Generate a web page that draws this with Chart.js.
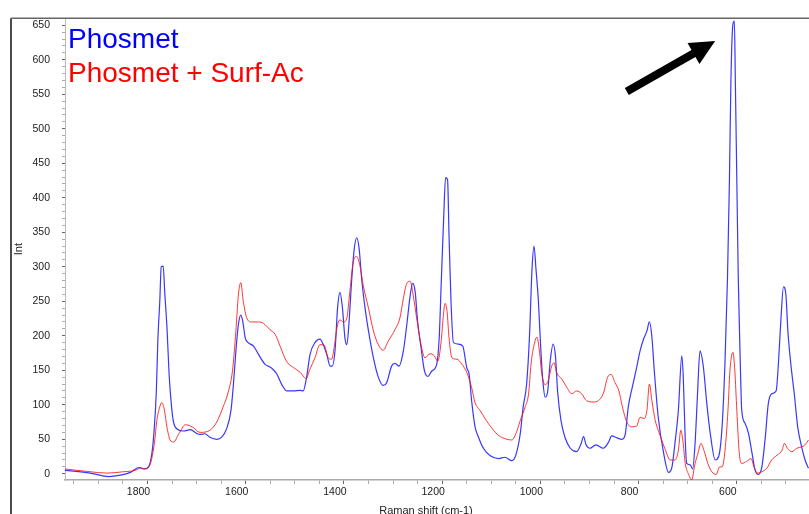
<!DOCTYPE html>
<html>
<head>
<meta charset="utf-8">
<title>Phosmet Raman spectrum</title>
<script src="https://cdn.jsdelivr.net/npm/chart.js@4.4.1/dist/chart.umd.min.js"></script>
<style>
  html, body { margin: 0; padding: 0; background: #fff; overflow: hidden; }
  #wrap { width: 809px; height: 514px; position: relative; }
</style>
</head>
<body>
<div id="wrap"><canvas id="spectrum"></canvas></div>
<script>
// Raman shift (cm-1) and intensity, Phosmet alone
const phosmetShift = [1968, 1917, 1879, 1855, 1835, 1818, 1808, 1798, 1791, 1786, 1782, 1779, 1775, 1772, 1768, 1765, 1760, 1756, 1751, 1747, 1740, 1726, 1713, 1699, 1693, 1683, 1673, 1659, 1649, 1639, 1630, 1625, 1620, 1615, 1610, 1606, 1601, 1595, 1584, 1574, 1561, 1547, 1537, 1527, 1516, 1503, 1489, 1483, 1476, 1469, 1459, 1449, 1442, 1435, 1428, 1424, 1418, 1413, 1408, 1403, 1398, 1394, 1390, 1384, 1379, 1374, 1369, 1364, 1357, 1350, 1340, 1330, 1320, 1313, 1303, 1296, 1288, 1279, 1272, 1265, 1260, 1255, 1250, 1243, 1236, 1229, 1221, 1211, 1206, 1202, 1197, 1193, 1189, 1186, 1182, 1177, 1167, 1158, 1150, 1145, 1140, 1133, 1126, 1116, 1102, 1085, 1072, 1058, 1050, 1041, 1035, 1028, 1022, 1017, 1013, 1009, 1004, 1000, 995, 990, 985, 980, 974, 969, 965, 958, 950, 939, 926, 917, 912, 907, 899, 887, 872, 861, 855, 844, 834, 827, 821, 813, 804, 797, 790, 783, 778, 773, 768, 760, 749, 739, 732, 726, 719, 712, 709, 705, 702, 695, 690, 685, 680, 675, 668, 661, 653, 644, 637, 630, 624, 619, 615, 612, 608, 605, 603, 600, 597, 593, 590, 583, 576, 569, 563, 556, 549, 542, 536, 529, 520, 515, 510, 505, 500, 496, 490, 483, 476, 468, 461, 454];
const phosmetInt = [5, 1, -4, -2, 2, 9, 7, 10, 30, 68, 120, 192, 250, 300, 301, 264, 207, 144, 97, 75, 65, 62, 64, 58, 57, 58, 53, 50, 53, 65, 92, 130, 178, 216, 230, 221, 197, 190, 185, 173, 159, 153, 145, 130, 120, 120, 121, 120, 140, 173, 190, 195, 187, 173, 156, 156, 180, 240, 263, 240, 197, 187, 216, 283, 326, 342, 326, 283, 240, 207, 168, 140, 128, 132, 156, 160, 156, 178, 216, 259, 276, 264, 221, 183, 149, 141, 149, 159, 197, 274, 369, 429, 426, 345, 250, 190, 188, 185, 154, 144, 106, 68, 53, 37, 26, 22, 24, 19, 27, 58, 97, 130, 202, 297, 330, 297, 250, 192, 135, 111, 120, 163, 188, 168, 120, 77, 53, 37, 32, 44, 54, 42, 37, 42, 37, 46, 55, 52, 50, 58, 97, 125, 154, 178, 195, 207, 220, 199, 149, 82, 30, 2, 10, 44, 92, 171, 140, 49, 15, 13, 7, 44, 116, 178, 154, 101, 53, 20, 25, 68, 163, 283, 426, 570, 651, 656, 570, 426, 283, 163, 92, 73, 58, 30, 6, -1, 10, 53, 101, 116, 120, 163, 226, 271, 259, 207, 159, 116, 68, 39, 20, 8];

// Phosmet + Surf-Ac
const surfShift = [1968, 1944, 1917, 1883, 1849, 1821, 1815, 1805, 1794, 1786, 1781, 1775, 1771, 1766, 1760, 1754, 1747, 1736, 1723, 1709, 1693, 1673, 1659, 1646, 1635, 1627, 1620, 1615, 1610, 1605, 1598, 1588, 1574, 1564, 1551, 1540, 1530, 1517, 1503, 1489, 1477, 1469, 1459, 1449, 1441, 1432, 1425, 1420, 1413, 1408, 1401, 1394, 1388, 1381, 1374, 1367, 1361, 1350, 1340, 1330, 1320, 1310, 1296, 1286, 1279, 1272, 1265, 1259, 1252, 1243, 1235, 1225, 1216, 1209, 1202, 1198, 1194, 1190, 1186, 1180, 1170, 1160, 1150, 1140, 1133, 1123, 1106, 1086, 1068, 1058, 1050, 1041, 1031, 1024, 1019, 1014, 1007, 1002, 997, 990, 984, 977, 972, 967, 956, 946, 936, 926, 916, 906, 892, 882, 872, 863, 856, 848, 840, 833, 824, 814, 804, 797, 789, 783, 778, 773, 766, 760, 753, 744, 736, 726, 719, 714, 710, 705, 698, 692, 685, 679, 673, 667, 659, 651, 642, 635, 630, 624, 618, 614, 608, 604, 600, 595, 590, 580, 571, 565, 558, 549, 539, 529, 518, 508, 503, 497, 488, 478, 468, 461, 454];
const surfInt = [7, 5, 3, 1, 3, 6, 9, 7, 15, 44, 77, 97, 103, 94, 66, 49, 46, 58, 71, 68, 60, 63, 75, 97, 120, 149, 207, 259, 277, 250, 226, 220, 220, 218, 209, 202, 185, 163, 154, 147, 138, 152, 168, 187, 187, 168, 166, 183, 216, 223, 220, 226, 264, 307, 315, 300, 274, 240, 207, 187, 179, 192, 209, 226, 254, 276, 279, 259, 226, 187, 168, 174, 171, 163, 192, 226, 247, 235, 197, 168, 166, 159, 147, 125, 103, 92, 73, 56, 50, 49, 58, 77, 97, 116, 159, 183, 198, 178, 144, 129, 135, 156, 161, 147, 137, 125, 116, 120, 116, 106, 104, 106, 116, 140, 144, 132, 120, 97, 75, 68, 69, 82, 80, 92, 130, 106, 77, 63, 49, 32, 20, 20, 34, 63, 49, 15, -1, -9, 15, 30, 44, 34, 15, 3, -1, 10, 10, 34, 92, 149, 176, 149, 92, 30, 15, 18, 22, 10, 1, 3, 8, 20, 27, 34, 44, 37, 32, 37, 39, 42, 49];

const shiftTicks = [];
for (let v = 1950; v >= 500; v -= 50) shiftTicks.push(v);
const intTicks = [];
for (let v = 0; v <= 650; v += 10) intTicks.push(v);

// arrow pointing at the 600 cm-1 band, in data units
const arrowFrom = { x: 824, y: 554 };
const arrowTo = { x: 644, y: 627 };

const FONT = "'Liberation Sans', Arial, Helvetica, sans-serif";

const toPoints = (xs, ys) => xs.map((x, i) => ({ x: x, y: ys[i] }));

const decorations = {
  id: 'decorations',
  afterDraw(chart) {
    const { ctx, chartArea, scales } = chart;
    ctx.save();

    // outer frame
    ctx.strokeStyle = '#111';
    ctx.lineWidth = 1.5;
    ctx.beginPath();
    ctx.moveTo(11, chartArea.top);
    ctx.lineTo(11, chart.height);
    ctx.stroke();
    ctx.strokeStyle = '#666';
    ctx.beginPath();
    ctx.moveTo(11, chartArea.top);
    ctx.lineTo(chart.width, chartArea.top);
    ctx.stroke();

    // series names written in their own colours
    ctx.font = '28px ' + FONT;
    ctx.textAlign = 'left';
    ctx.textBaseline = 'alphabetic';
    chart.data.datasets.forEach((ds, i) => {
      ctx.fillStyle = ds.labelColor;
      ctx.fillText(ds.label, chartArea.left + 3, chartArea.top + 30 + i * 34);
    });

    // x axis title
    ctx.font = '11px ' + FONT;
    ctx.fillStyle = '#222';
    ctx.textAlign = 'center';
    ctx.fillText('Raman shift (cm-1)', chartArea.left + 361, chart.height - 0.5);

    // arrow
    const x0 = scales.x.getPixelForValue(arrowFrom.x);
    const y0 = scales.y.getPixelForValue(arrowFrom.y);
    const x1 = scales.x.getPixelForValue(arrowTo.x);
    const y1 = scales.y.getPixelForValue(arrowTo.y);
    const len = Math.hypot(x1 - x0, y1 - y0);
    const ux = (x1 - x0) / len, uy = (y1 - y0) / len;
    const px = -uy, py = ux;
    const headLen = 25, headHalf = 12;
    const bx = x1 - ux * headLen, by = y1 - uy * headLen;
    ctx.strokeStyle = '#000';
    ctx.lineWidth = 8;
    ctx.lineCap = 'butt';
    ctx.beginPath();
    ctx.moveTo(x0, y0);
    ctx.lineTo(bx + ux * 2, by + uy * 2);
    ctx.stroke();
    ctx.fillStyle = '#000';
    ctx.beginPath();
    ctx.moveTo(x1, y1);
    ctx.lineTo(bx + px * headHalf, by + py * headHalf);
    ctx.lineTo(bx - px * headHalf, by - py * headHalf);
    ctx.closePath();
    ctx.fill();

    ctx.restore();
  }
};

const ctx = document.getElementById('spectrum').getContext('2d');
new Chart(ctx, {
  type: 'line',
  data: {
    datasets: [
      {
        label: 'Phosmet',
        labelColor: '#0000ff',
        data: toPoints(phosmetShift, phosmetInt),
        borderColor: 'rgba(20, 20, 255, 0.85)',
        borderWidth: 1.2,
        pointRadius: 0,
        cubicInterpolationMode: 'monotone',
        order: 2,
      },
      {
        label: 'Phosmet + Surf-Ac',
        labelColor: '#ff0000',
        data: toPoints(surfShift, surfInt),
        borderColor: 'rgba(255, 20, 20, 0.85)',
        borderWidth: 1,
        pointRadius: 0,
        cubicInterpolationMode: 'monotone',
        order: 1,
      },
    ],
  },
  options: {
    responsive: true,
    maintainAspectRatio: false,
    animation: false,
    layout: { padding: { top: 14, left: 0, right: 0, bottom: 0 } },
    plugins: {
      legend: { display: false },
      tooltip: { enabled: false },
    },
    scales: {
      x: {
        type: 'linear',
        reverse: true,
        min: 453,
        max: 1968,
        afterBuildTicks: (s) => { s.ticks = shiftTicks.map((v) => ({ value: v })); },
        afterFit: (s) => { s.height = 34; },
        ticks: {
          autoSkip: false,
          maxRotation: 0,
          labelOffset: -9,
          padding: 2,
          color: '#222',
          font: { family: FONT, size: 10.5 },
          callback: (v) => (v % 200 === 0 ? v : ''),
        },
        grid: {
          drawOnChartArea: false,
          tickLength: 4,
          tickColor: (c) => (c.tick && c.tick.value % 200 === 0 ? '#666' : '#aaa'),
        },
        border: { color: '#aaa', width: 1.5 },
      },
      y: {
        min: -9,
        max: 660,
        afterBuildTicks: (s) => { s.ticks = intTicks.map((v) => ({ value: v })); },
        afterFit: (s) => { s.width = 65; },
        ticks: {
          autoSkip: false,
          padding: 12,
          color: '#222',
          font: { family: FONT, size: 10.5 },
          callback: (v) => (v % 50 === 0 ? v : ''),
        },
        grid: {
          drawOnChartArea: false,
          tickLength: 3,
          tickColor: (c) => (c.tick && c.tick.value % 50 === 0 ? '#666' : '#aaa'),
        },
        border: { color: '#bbb', width: 1 },
        title: {
          display: true,
          text: 'Int',
          color: '#222',
          font: { family: FONT, size: 11 },
          padding: { top: 12, bottom: 0 },
        },
      },
    },
  },
  plugins: [decorations],
});
</script>
</body>
</html>
